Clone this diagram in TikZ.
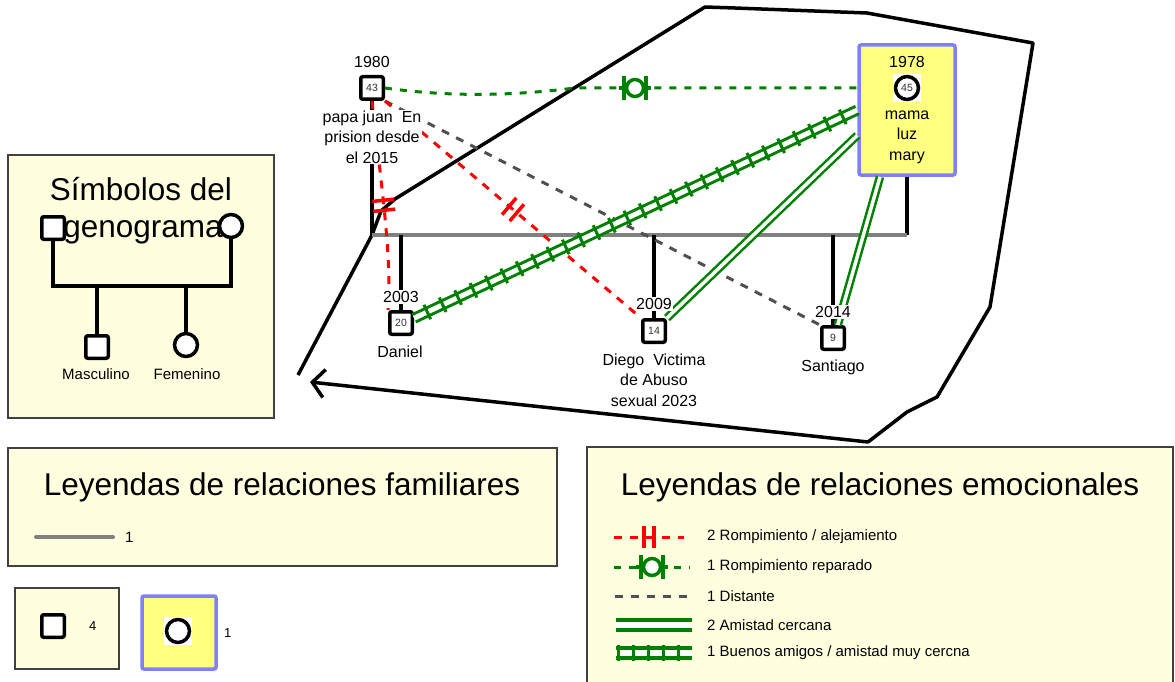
\documentclass[tikz,border=0pt]{standalone}
\usepackage{fontspec}
\setmainfont{Liberation Sans}
\usetikzlibrary{arrows.meta,decorations.markings}

\definecolor{legfill}{RGB}{255,255,224}
\definecolor{mamafill}{RGB}{255,255,128}
\definecolor{mamaedge}{RGB}{128,128,255}
\definecolor{relgreen}{RGB}{0,128,0}
\definecolor{distgray}{RGB}{80,80,80}
\definecolor{margray}{RGB}{128,128,128}

\tikzset{
  legbox/.style={draw=black!75, line width=1.5pt, fill=legfill},
  yelbox/.style={draw=mamaedge, line width=3.5pt, fill=mamafill, rounded corners=2pt},
  male/.style={draw, line width=3.5pt, minimum size=22.5pt, inner sep=0pt, fill=white, rounded corners=2pt, font=\fontsize{10.5}{12}\selectfont\color{black!80}},
  female/.style={draw, circle, line width=3.5pt, minimum size=23pt, inner sep=0pt, fill=white, font=\fontsize{10.5}{12}\selectfont\color{black!80}},
  femback/.style={fill=white, minimum size=28pt, inner sep=0pt},
  lbl/.style={font=\fontsize{16}{20.5}\selectfont, align=center, inner sep=1pt},
  yearlbl/.style={lbl, fill=white},
  titletext/.style={font=\fontsize{31.5}{36}\selectfont, anchor=base, inner sep=0pt},
  legtext/.style={font=\fontsize{15}{17}\selectfont, anchor=west, inner sep=0pt},
  kin/.style={line width=3.5pt},
  marriage/.style={line width=4pt, draw=margray},
  cutoff/.style={red, line width=3pt, dash pattern=on 8pt off 8pt,
    decoration={markings, mark=at position #1 with {\draw[red, solid, line width=3.5pt] (-5pt,-11pt) -- (-5pt,11pt) (5pt,-11pt) -- (5pt,11pt);}},
    postaction={decorate}},
  cutoff/.default=0.5,
  repaired/.style={relgreen, line width=3pt, dash pattern=on 7pt off 8pt,
    decoration={markings, mark=at position #1 with {\draw[relgreen, solid, line width=3.5pt, fill=white] (0pt,0pt) circle (8.5pt);
      \draw[relgreen, solid, line width=3.5pt] (-11pt,-12pt) -- (-11pt,12pt) (11pt,-12pt) -- (11pt,12pt) (-16pt,0pt) -- (-11pt,0pt) (11pt,0pt) -- (16pt,0pt);}},
    postaction={decorate}},
  repaired/.default=0.5,
  distant/.style={distgray, line width=3pt, dash pattern=on 8pt off 8pt},
  closeline/.style={draw=relgreen, line width=2.5pt, double=white, double distance=3.5pt},
  railline/.style={draw=relgreen, line width=3pt, double=white, double distance=5pt,
    decoration={markings, mark=between positions 0.03 and 1 step #1 with {\draw[relgreen, solid, line width=3pt] (0pt,-8pt) -- (0pt,8pt);}},
    postaction={decorate}},
  railline/.default=17pt
}

\begin{document}
\begin{tikzpicture}[x=1pt,y=-1pt]
\clip (0,0) rectangle (1175,682);

\draw[legbox] (8,155) rectangle (274,418);
\draw[legbox] (8,448) rectangle (557,566);
\draw[legbox] (15,588) rectangle (119,669);
\draw[yelbox] (142,596) rectangle (216,669);
\fill[legfill] (587,447) rectangle (1173,690);
\draw[black!75, line width=1.5pt] (587,690) -- (587,447) -- (1173,447) -- (1173,690);

\draw[line width=3.5pt, line join=round, -{Straight Barb[length=12pt,width=28pt]}]
  (298,375) -- (372,235) -- (381,211) -- (395,199) -- (705,7) -- (735,8) -- (867,13)
  -- (1033,43) -- (990,307) -- (937,397) -- (907,412) -- (868,442) -- (310,382);

\node[titletext] (symtitle) at (141,200) {Símbolos del};
\node[titletext] (symtitleb) at (143,237) {genograma};
\node[male] (symfa) at (53,228) {};
\node[female] (symmo) at (231,226) {};
\node[male] (symson) at (97,347) {};
\node[female] (symda) at (186,345) {};
\coordinate (symbar) at (140,286);
\draw[kin] (symfa) |- (symbar) -| (symmo);
\draw[kin] (symbar -| symson) -- (symson);
\draw[kin] (symbar -| symda) -- (symda);
\node[lbl, font=\fontsize{15}{18}\selectfont] (symsonlbl) at (96,374) {Masculino};
\node[lbl, font=\fontsize{15}{18}\selectfont] (symdalbl) at (187,374) {Femenino};

\node[titletext] (famtitle) at (282,495) {Leyendas de relaciones familiares};
\draw[marriage, line cap=round] (36,537) -- (113,537);
\node[legtext] (famone) at (125,537) {1};
\node[male] (legmale) at (53,626) {};
\node[legtext, font=\fontsize{13}{15}\selectfont] (legmalenum) at (89,626) {4};
\node[femback] (legfemback) at (178,631) {};
\node[female] (legfem) at (178,631) {};
\node[legtext, font=\fontsize{13}{15}\selectfont] (legfemnum) at (224,633) {1};

\node[titletext] (emotitle) at (880,495) {Leyendas de relaciones emocionales};
\draw[cutoff] (614,537) -- (684,537);
\draw[repaired] (614,567) -- (690,567);
\draw[distant] (615,596) -- (692,596);
\draw[closeline, line width=4pt, double distance=6pt] (616,625) -- (692,625);
\draw[railline=15pt, line width=4pt, double distance=6pt] (616,653) -- (692,653);
\node[legtext] (emoone) at (707,537) {2 Rompimiento / alejamiento};
\node[legtext] (emotwo) at (707,567) {1 Rompimiento reparado};
\node[legtext] (emothree) at (707,596) {1 Distante};
\node[legtext] (emofour) at (707,625) {2 Amistad cercana};
\node[legtext] (emofive) at (707,653) {1 Buenos amigos / amistad muy cercna};

\node[male] (papa) at (372,88) {43};
\node[yelbox, minimum width=96pt, minimum height=130pt] (mamabox) at (907,110) {};
\node[femback] (mamaback) at (907,88) {};
\node[female] (mama) at (907,88) {45};
\node[male] (daniel) at (401,323) {20};
\node[male] (diego) at (654,331) {14};
\node[male] (santiago) at (833,338) {9};
\coordinate (marl) at (372,235);
\coordinate (marr) at (907,235);

\draw[kin] (papa) -- (marl);
\draw[kin] (mamabox) -- (marr);
\draw[marriage] (marl) -- (marr);
\draw[kin] (marl -| daniel) -- (daniel);
\draw[kin] (marl -| diego) -- (diego);
\draw[kin] (marl -| santiago) -- (santiago);

\draw[repaired=0.53] (papa.east) .. controls (450,97) and (510,96) .. (575,88) -- (mamabox.west |- papa);
\draw[distant] (papa.south east) -- (santiago.north west);
\draw[cutoff] (papa.south east) -- (diego.north west);
\draw[cutoff] (papa.south) .. controls (382,190) and (392,260) .. (daniel.north west);
\draw[railline] (daniel.20) -- (mamabox.west);
\draw[closeline] (diego.north east) -- (mamabox.207);
\draw[closeline] (santiago.70) -- (mamabox.248);

\node[lbl] (papayear) at (372,62) {1980};
\node[yearlbl] (papalbl) at (372,137) {papa juan~ En\\prision desde\\el 2015};
\node[lbl] (mamayear) at (907,62) {1978};
\node[lbl] (mamalbl) at (907,137) {mama\\luz\\mary};
\node[yearlbl] (danielyear) at (401,297) {2003};
\node[lbl] (daniellbl) at (400,352) {Daniel};
\node[yearlbl] (diegoyear) at (654,304) {2009};
\node[lbl] (diegolbl) at (654,380) {Diego~ Victima\\de Abuso\\sexual 2023};
\node[yearlbl] (santiagoyear) at (833,312) {2014};
\node[lbl] (santiagolbl) at (833,367) {Santiago};
\end{tikzpicture}
\end{document}
